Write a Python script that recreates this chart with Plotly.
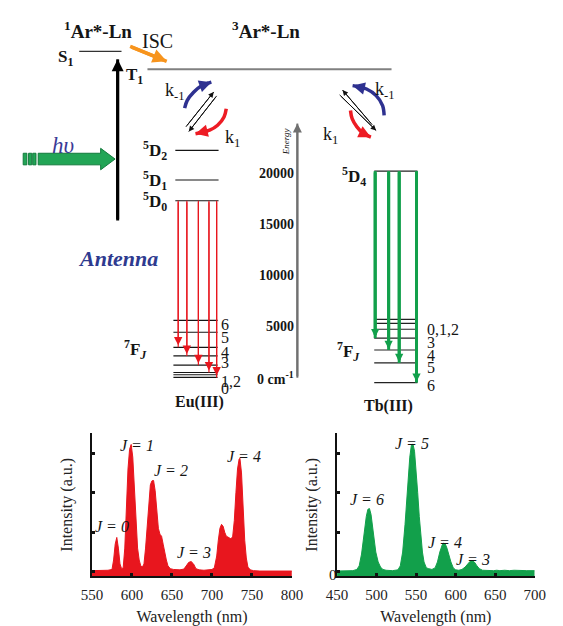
import plotly.graph_objects as go

# ---------------- DATA ----------------
# Energy scale of the Jablonski-type diagram (cm^-1)
energy_ticks = [0, 5000, 10000, 15000, 20000]
energy_ticktext = ["0 cm<sup>-1</sup>", "5000", "10000", "15000", "20000"]

S1_energy = 31600
T1_energy = 29870

eu_5D_levels = [17000, 19030, 21930]            # 5D0, 5D1, 5D2
eu_5D_names = ["<sup>5</sup>D<sub>0</sub>", "<sup>5</sup>D<sub>1</sub>", "<sup>5</sup>D<sub>2</sub>"]
eu_7F_lines = [5300, 4140, 2660, 1820, 920, 200, -20, -280]
eu_7F_names = ["6", "5", "4", "3", "1,2", "0"]
eu_emission_targets = [2660, 1820, 920, 200, -280]   # 5D0 -> 7F4..7F0

tb_5D4_level = 19900
tb_7F_lines = [5400, 5010, 4430, 3560, 2400, 1140, -790]
tb_7F_names = ["0,1,2", "3", "4", "5", "6"]
tb_emission_targets = [3560, 2400, 1140, -790]       # 5D4 -> 7F3..7F6

# Eu(III) emission spectrum
eu_wavelength = [550, 560, 570, 575, 577, 579, 581, 583, 585, 587, 589, 591, 593, 595, 597, 599,
                 601, 603, 605, 607, 609, 611, 613, 615, 617, 619, 621, 623, 625, 627, 629, 631,
                 633, 635, 637, 639, 641, 643, 645, 648, 652, 656, 660, 665, 668, 671, 674, 677,
                 680, 684, 690, 695, 700, 703, 706, 708, 710, 712, 714, 716, 718, 720, 722, 724,
                 726, 728, 730, 732, 734, 735, 737, 739, 741, 743, 745, 748, 752, 760, 780, 800]
eu_intensity = [0.03, 0.03, 0.04, 0.06, 0.30, 0.70, 0.87, 0.60, 0.20, 0.08, 0.10, 0.60, 1.60, 2.60, 3.10, 3.22,
                2.90, 2.20, 1.30, 0.60, 0.30, 0.15, 0.12, 0.20, 0.60, 1.20, 1.80, 2.20, 2.30, 2.31, 2.05, 1.60,
                1.10, 0.95, 0.90, 0.70, 0.45, 0.30, 0.15, 0.08, 0.06, 0.06, 0.05, 0.07, 0.15, 0.24, 0.26, 0.20,
                0.08, 0.05, 0.04, 0.05, 0.06, 0.10, 0.40, 0.80, 1.10, 1.20, 1.15, 1.00, 0.90, 0.88, 0.86, 0.83,
                0.90, 1.30, 2.00, 2.60, 2.85, 2.87, 2.50, 1.60, 0.80, 0.35, 0.12, 0.05, 0.03, 0.02, 0.02, 0.02]

# Tb(III) emission spectrum
tb_wavelength = [450, 460, 470, 475, 478, 481, 484, 487, 489, 491, 493, 495, 497, 499, 502, 505,
                 508, 512, 520, 527, 530, 533, 536, 539, 542, 544, 546, 548, 550, 552, 554, 556,
                 558, 560, 563, 566, 570, 574, 577, 580, 583, 585, 587, 589, 591, 594, 597, 600,
                 604, 608, 612, 615, 618, 621, 624, 627, 630, 634, 640, 648, 652, 656, 662, 668,
                 674, 680, 690, 700]
tb_intensity = [0.02, 0.02, 0.03, 0.06, 0.15, 0.45, 0.95, 1.40, 1.58, 1.60, 1.45, 1.15, 0.80, 0.50, 0.25, 0.12,
                0.06, 0.04, 0.03, 0.05, 0.15, 0.50, 1.20, 2.10, 2.90, 3.20, 3.23, 3.05, 2.60, 2.00, 1.40, 0.90,
                0.50, 0.25, 0.10, 0.08, 0.06, 0.10, 0.25, 0.50, 0.68, 0.73, 0.70, 0.60, 0.45, 0.25, 0.10, 0.05,
                0.04, 0.06, 0.12, 0.20, 0.26, 0.28, 0.24, 0.15, 0.08, 0.04, 0.03, 0.03, 0.04, 0.03, 0.04, 0.03,
                0.04, 0.03, 0.03, 0.03]

eu_ticks = [550, 600, 650, 700, 750, 800]
tb_ticks = [450, 500, 550, 600, 650, 700]
eu_peak_labels = ["J = 0", "J = 1", "J = 2", "J = 3", "J = 4"]
tb_peak_labels = ["J = 6", "J = 5", "J = 4", "J = 3"]

# ---------------- LAYOUT / STYLE ----------------
W, H = 563, 626
SERIF = "Liberation Serif, Times New Roman, serif"
INK = "#151515"
RED = "#e8161e"
GREEN = "#12a04b"
BLUE = "#2e3190"
E_RANGE = [-23907, 36634]           # diagram energy axis range over the full page height
X_RANGE = [0, W]                    # diagram horizontal units
SPEC_FLOOR = -0.1175
SPEC_TOP = 3.5075

fig = go.Figure()


def text(x, y, s, size=16, color=INK, xanchor="center", angle=0, xref="x", yref="y", xshift=0):
    fig.add_annotation(x=x, y=y, xref=xref, yref=yref, text=s, showarrow=False,
                       xanchor=xanchor, yanchor="middle", textangle=angle, yshift=-3, xshift=xshift,
                       font=dict(family=SERIF, size=size, color=color))


def arrow(xs, ys, color, width, head, shape="linear", standoff=0):
    # shaft drawn as a line, head drawn by an annotation arrow on the last segment
    fig.add_trace(go.Scatter(x=xs, y=ys, mode="lines", xaxis="x", yaxis="y",
                             line=dict(color=color, width=width, shape=shape), hoverinfo="skip"))
    fig.add_annotation(x=xs[-1], y=ys[-1], ax=xs[-2], ay=ys[-2], xref="x", yref="y",
                       axref="x", ayref="y", text="", showarrow=True, arrowhead=2,
                       arrowsize=head, arrowwidth=width, arrowcolor=color, standoff=standoff)


def hlines(x0, x1, levels, color=INK, width=1.2):
    xs, ys = [], []
    for e in levels:
        xs += [x0, x1, None]
        ys += [e, e, None]
    fig.add_trace(go.Scatter(x=xs, y=ys, mode="lines", line=dict(color=color, width=width),
                             hoverinfo="skip", xaxis="x", yaxis="y"))


def block_arrow(x0, xb, xt, yc, shaft, head, color, edge):
    xs = [x0, xb, xb, xt, xb, xb, x0, x0]
    ys = [yc + shaft, yc + shaft, yc + head, yc, yc - head, yc - shaft, yc - shaft, yc + shaft]
    fig.add_trace(go.Scatter(x=xs, y=ys, mode="lines", fill="toself", fillcolor=color,
                             line=dict(color=edge, width=1), hoverinfo="skip", xaxis="x", yaxis="y"))


# --- top labels
text(53, 34023, "<b><sup>1</sup>Ar*-Ln</b>", size=19, xanchor="left")
text(228, 34023, "<b><sup>3</sup>Ar*-Ln</b>", size=19, xanchor="left")
text(57, 31300, "<b>S<sub>1</sub></b>", size=17)
text(129, 29500, "<b>T<sub>1</sub></b>", size=17)
text(152, 32900, "ISC", size=20)

# S1 and T1 levels
hlines(71, 115, [S1_energy], color="#333333", width=1.2)
hlines(142, 396, [T1_energy], color="#808080", width=2)

# ISC arrow and excitation arrow
arrow([124, 162], [32089, 30638], "#f7941d", 3.5, 0.8)
arrow([111, 111], [15068, 30832], "#000000", 3, 0.8)

# h-nu block arrow
block_arrow(28.3, 93.3, 108.3, 21078, 566, 1050, "#22a556", "#127a3c")
for bx0, bx1 in [(12.7, 16.5), (18.3, 21.6), (22.6, 26.0)]:
    block_arrow(bx0, bx1, bx1, 21078, 566, 566, "#22a556", "#127a3c")
text(54, 22708, "<i>h\u03c5</i>", size=23, color="#3a3a96")

text(111, 11683, "<b><i>Antenna</i></b>", size=22, color="#2e3a8f")

# --- energy transfer arrows (left, Eu)
arrow([182, 211], [24226, 27640], "#111111", 1, 1.1)
arrow([214, 185], [27253, 23770], "#111111", 1, 1.1)
arrow([180.7, 183.3, 190, 198.3, 208.5], [26064, 26799, 27611, 28250, 28600], BLUE, 3.5, 0.7, shape="spline")
arrow([224, 221.7, 215, 206.7, 192], [25996, 25193, 24381, 23897, 23560], "#ed1c24", 3.5, 0.7, shape="spline")
text(171, 28000, "k<sub>-1</sub>", size=18)
text(230, 23400, "k<sub>1</sub>", size=18)

# --- energy transfer arrows (right, Tb)
arrow([376, 345], [24420, 27830], "#111111", 1, 1.1)
arrow([342, 380], [27350, 23870], "#111111", 1, 1.1)
arrow([388.3, 386.7, 380, 370, 355.5], [25348, 26315, 27282, 27930, 28260], BLUE, 3.5, 0.7, shape="spline")
arrow([353.3, 355, 360, 366.7, 374.5], [25832, 25029, 24226, 23578, 23220], "#ed1c24", 3.5, 0.7, shape="spline")
text(389, 28030, "k<sub>-1</sub>", size=18)
text(333, 23650, "k<sub>1</sub>", size=18)

# --- Eu(III) levels
hlines(171, 216, eu_5D_levels, width=1.1)
for e, name in zip(eu_5D_levels, eu_5D_names):
    text(150, e + 250, "<b>" + name + "</b>", size=17)
hlines(169, 215, eu_7F_lines, width=1.2)
eu_arrow_x = [174, 183, 195, 206, 214]
for xa, tgt in zip(eu_arrow_x, eu_emission_targets):
    arrow([xa, xa], [eu_5D_levels[0], tgt], RED, 1.2, 1.4, standoff=2)
eu_label_E = [5150, 3900, 2450, 1480, -430, -1100]
for e, name in zip(eu_label_E, eu_7F_names):
    text(216, e, name, size=16, xanchor="left")
text(130, 2785, "<b><sup>7</sup>F<sub><i>J</i></sub></b>", size=17)
text(196, -2437, "<b>Eu(III)</b>", size=16)

# --- energy axis
arrow([298, 298], [-310, 24545], "#707070", 2, 0.9)
for e, lab in zip(energy_ticks, energy_ticktext):
    text(296.5, e, "<b>" + lab + "</b>", size=14, xanchor="right")
text(287, 23095, "<i>Energy</i>", size=9, angle=-90)

# --- Tb(III) levels
hlines(378, 423, [tb_5D4_level], color="#222222", width=1.2)
text(357, 19710, "<b><sup>5</sup>D<sub>4</sub></b>", size=17)
hlines(378, 423, tb_7F_lines, color="#222222", width=1.1)
tb_arrow_x = [379, 393, 404, 422]
for xa, tgt in zip(tb_arrow_x, tb_emission_targets):
    arrow([xa, xa], [tb_5D4_level, tgt], GREEN, 3, 0.55, standoff=1)
tb_label_E = [4720, 3460, 2110, 950, -790]
for e, name in zip(tb_label_E, tb_7F_names):
    text(431, e, name, size=16, xanchor="left")
text(351, 2592, "<b><sup>7</sup>F<sub><i>J</i></sub></b>", size=17)
text(393, -2824, "<b>Tb(III)</b>", size=16)

# --- spectra
fig.add_trace(go.Scatter(x=[eu_wavelength[0], eu_wavelength[-1]], y=[SPEC_FLOOR, SPEC_FLOOR],
                         mode="lines", line=dict(width=0, color=RED), xaxis="x2", yaxis="y2", hoverinfo="skip"))
fig.add_trace(go.Scatter(x=eu_wavelength, y=eu_intensity, mode="lines", fill="tonexty",
                         fillcolor=RED, line=dict(color=RED, width=1), xaxis="x2", yaxis="y2"))
fig.add_trace(go.Scatter(x=[tb_wavelength[0], tb_wavelength[-1]], y=[SPEC_FLOOR, SPEC_FLOOR],
                         mode="lines", line=dict(width=0, color=GREEN), xaxis="x3", yaxis="y3", hoverinfo="skip"))
fig.add_trace(go.Scatter(x=tb_wavelength, y=tb_intensity, mode="lines", fill="tonexty",
                         fillcolor=GREEN, line=dict(color=GREEN, width=1), xaxis="x3", yaxis="y3"))

eu_label_pos = [(575, 1.21), (606.7, 3.26), (648.8, 2.63), (677, 0.56), (740, 3.0)]
for (wx, wy), s in zip(eu_label_pos, eu_peak_labels):
    text(wx, wy, "<i>" + s + "</i>", size=16, xref="x2", yref="y2")
tb_label_pos = [(488, 1.9), (545, 3.33), (587, 0.83), (622.5, 0.38)]
for (wx, wy), s in zip(tb_label_pos, tb_peak_labels):
    text(wx, wy, "<i>" + s + "</i>", size=16, xref="x3", yref="y3")
# zero label of the Tb intensity axis
text(tb_wavelength[0], 0, "0", size=15, xref="x3", yref="y3", xanchor="right", xshift=2)

spec_y_domain = [(H - 583) / H, (H - 438) / H]
axis_common = dict(showline=True, linecolor="#111111", linewidth=2, ticks="inside", ticklen=3,
                   tickwidth=3, tickcolor="#111111", showgrid=False, zeroline=False, mirror=False,
                   tickfont=dict(family=SERIF, size=15, color="#222222"), fixedrange=True)
title_font = dict(family=SERIF, size=16, color="#222222")

fig.update_layout(
    width=W, height=H, margin=dict(l=0, r=0, t=0, b=0),
    paper_bgcolor="white", plot_bgcolor="rgba(0,0,0,0)", showlegend=False,
    xaxis=dict(range=X_RANGE, domain=[0, 1], visible=False, fixedrange=True),
    yaxis=dict(range=E_RANGE, domain=[0, 1], visible=False, fixedrange=True),
    xaxis2=dict(domain=[84.3 / W, 292.3 / W], anchor="y2", range=[550, 800], tickvals=eu_ticks,
                ticklabelstandoff=4,
                title=dict(text="Wavelength (nm)", font=title_font, standoff=11), **axis_common),
    yaxis2=dict(domain=spec_y_domain, anchor="x2", range=[SPEC_FLOOR, SPEC_TOP], tickvals=[0, 1, 2, 3],
                showticklabels=False, title=dict(text="Intensity (a.u.)", font=title_font, standoff=13),
                **axis_common),
    xaxis3=dict(domain=[339.3 / W, 545 / W], anchor="y3", range=[450, 700], tickvals=tb_ticks,
                ticklabelstandoff=4,
                title=dict(text="Wavelength (nm)", font=title_font, standoff=11), **axis_common),
    yaxis3=dict(domain=spec_y_domain, anchor="x3", range=[SPEC_FLOOR, SPEC_TOP], tickvals=[0, 1, 2, 3],
                showticklabels=False, title=dict(text="Intensity (a.u.)", font=title_font, standoff=13),
                **axis_common),
)

fig.write_html("out.html")
